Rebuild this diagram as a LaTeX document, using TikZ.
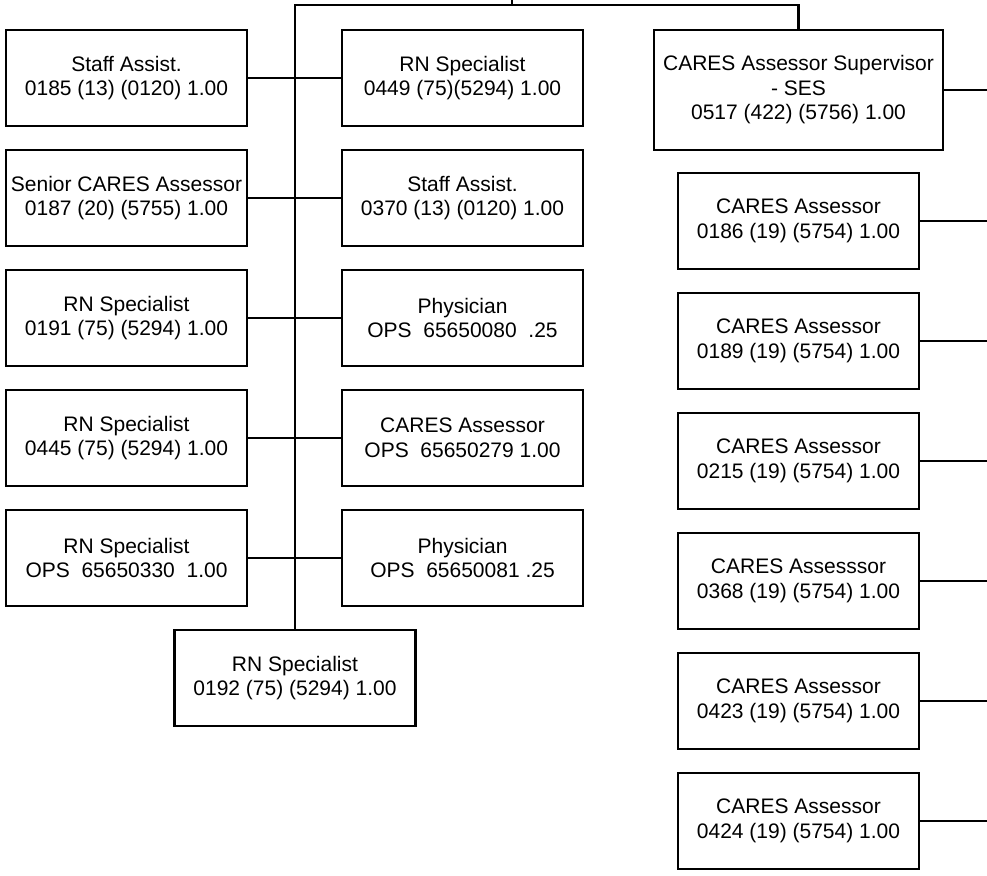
\documentclass[tikz,border=0pt]{standalone}
\usepackage{fontspec}
\setmainfont{Liberation Sans}
\begin{document}
\begin{tikzpicture}[x=1pt,y=-1pt,
      post/.style={draw,line width=2.7pt,minimum width=241pt,minimum height=96pt,
        inner sep=0pt,align=center,font=\fontsize{21}{24.5}\selectfont},
      link/.style={line width=2.1pt}]
      \useasboundingbox (0,0) rectangle (987,875);
      % left column
      \node[post] (staffA) at (126.5,78) {Staff Assist.\\0185 (13) (0120) 1.00};
      \node[post] (senior) at (126.5,198) {Senior CARES Assessor\\0187 (20) (5755) 1.00};
      \node[post] (rnA) at (126.5,318) {RN Specialist\\0191 (75) (5294) 1.00};
      \node[post] (rnB) at (126.5,438) {RN Specialist\\0445 (75) (5294) 1.00};
      \node[post] (rnC) at (126.5,558) {RN Specialist\\OPS~~65650330~~1.00};
      % middle column
      \node[post] (rnD) at (462.5,78) {RN Specialist\\0449 (75)(5294) 1.00};
      \node[post] (staffB) at (462.5,198) {Staff Assist.\\0370 (13) (0120) 1.00};
      \node[post] (physA) at (462.5,318) {Physician\\OPS~~65650080~~.25};
      \node[post] (caresOps) at (462.5,438) {CARES Assessor\\OPS~~65650279 1.00};
      \node[post] (physB) at (462.5,558) {Physician\\OPS~~65650081 .25};
      \node[post] (rnE) at (295,678) {RN Specialist\\0192 (75) (5294) 1.00};
      % right column
      \node[post,minimum width=289pt,minimum height=120pt] (super) at (798.5,90)
         {CARES Assessor Supervisor\\- SES\\0517 (422) (5756) 1.00};
      \node[post] (asA) at (798.5,221) {CARES Assessor\\0186 (19) (5754) 1.00};
      \node[post] (asB) at (798.5,341) {CARES Assessor\\0189 (19) (5754) 1.00};
      \node[post] (asC) at (798.5,461) {CARES Assessor\\0215 (19) (5754) 1.00};
      \node[post] (asD) at (798.5,581) {CARES Assesssor\\0368 (19) (5754) 1.00};
      \node[post] (asE) at (798.5,701) {CARES Assessor\\0423 (19) (5754) 1.00};
      \node[post] (asF) at (798.5,821) {CARES Assessor\\0424 (19) (5754) 1.00};
      % connectors
      \coordinate (root) at (512,0);
      \coordinate (hub) at (512,5);
      \coordinate (rim) at (987,0);
      \draw[link] (root) -- (hub);
      \draw[link] (rnE.north) -- (rnE.north |- hub) -| (super.north);
      \draw[link] (staffA.east) -- (rnD.west);
      \draw[link] (senior.east) -- (staffB.west);
      \draw[link] (rnA.east) -- (physA.west);
      \draw[link] (rnB.east) -- (caresOps.west);
      \draw[link] (rnC.east) -- (physB.west);
      \draw[link] (super.east) -- (super.east -| rim);
      \draw[link] (asA.east) -- (asA.east -| rim);
      \draw[link] (asB.east) -- (asB.east -| rim);
      \draw[link] (asC.east) -- (asC.east -| rim);
      \draw[link] (asD.east) -- (asD.east -| rim);
      \draw[link] (asE.east) -- (asE.east -| rim);
      \draw[link] (asF.east) -- (asF.east -| rim);
     \end{tikzpicture}
\end{document}
